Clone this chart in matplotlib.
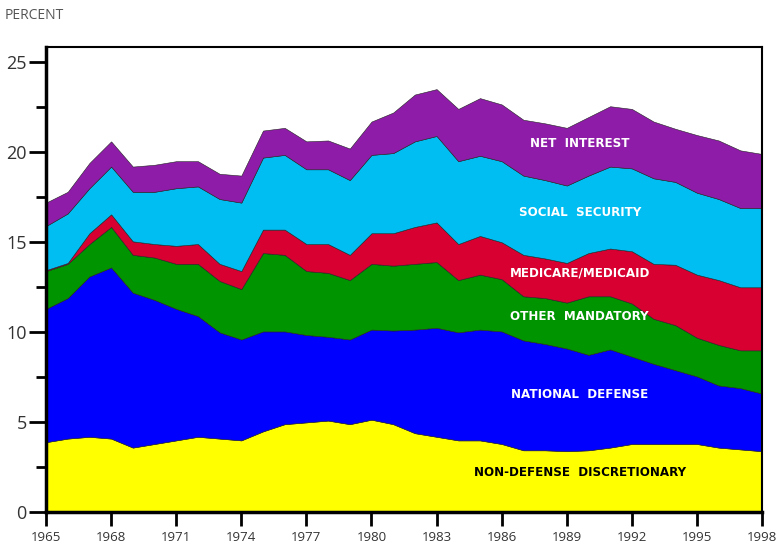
import matplotlib
matplotlib.use("Agg")
import matplotlib.pyplot as plt
from matplotlib.ticker import MultipleLocator

years = list(range(1965, 1999))

# outlays as percent of GDP
non_defense = [3.9, 4.1, 4.2, 4.1, 3.6, 3.8, 4.0, 4.2, 4.1, 4.0, 4.5, 4.9,
               5.0, 5.1, 4.9, 5.15, 4.9, 4.4, 4.2, 4.0, 4.0, 3.8, 3.45, 3.45,
               3.4, 3.45, 3.6, 3.8, 3.8, 3.8, 3.8, 3.6, 3.5, 3.4]
defense = [7.4, 7.8, 8.9, 9.5, 8.6, 8.0, 7.3, 6.7, 5.9, 5.6, 5.55, 5.15,
           4.85, 4.65, 4.7, 5.0, 5.2, 5.75, 6.05, 6.0, 6.15, 6.25, 6.1, 5.9,
           5.7, 5.3, 5.45, 4.85, 4.45, 4.1, 3.75, 3.45, 3.4, 3.2]
other_mandatory = [2.1, 1.9, 1.8, 2.25, 2.1, 2.35, 2.5, 2.9, 2.85, 2.8, 4.35, 4.25,
                   3.55, 3.55, 3.3, 3.65, 3.6, 3.65, 3.65, 2.9, 3.05, 2.9, 2.45, 2.55,
                   2.55, 3.25, 2.95, 2.95, 2.5, 2.5, 2.15, 2.25, 2.1, 2.4]
medicare = [0.05, 0.05, 0.6, 0.7, 0.75, 0.75, 1.0, 1.1, 0.95, 1.0, 1.3, 1.4,
            1.5, 1.6, 1.4, 1.7, 1.8, 2.05, 2.2, 2.0, 2.15, 2.05, 2.3, 2.2,
            2.2, 2.4, 2.65, 2.9, 3.05, 3.35, 3.5, 3.6, 3.5, 3.5]
social_security = [2.45, 2.75, 2.5, 2.65, 2.75, 2.9, 3.2, 3.2, 3.6, 3.8, 4.0, 4.15,
                   4.15, 4.15, 4.15, 4.35, 4.45, 4.75, 4.8, 4.6, 4.45, 4.5, 4.4, 4.35,
                   4.3, 4.3, 4.55, 4.6, 4.75, 4.6, 4.55, 4.5, 4.4, 4.4]
net_interest = [1.3, 1.2, 1.4, 1.4, 1.4, 1.5, 1.5, 1.4, 1.4, 1.5, 1.5, 1.5,
                1.55, 1.6, 1.75, 1.85, 2.25, 2.6, 2.6, 2.9, 3.2, 3.15, 3.1, 3.15,
                3.2, 3.25, 3.35, 3.3, 3.15, 2.95, 3.2, 3.25, 3.2, 3.0]

colores = ['#ffff00', '#0000ff', '#009400', '#d70030', '#00bdf2', '#8e1ca8']
etiquetas = ["NON-DEFENSE  DISCRETIONARY", "NATIONAL  DEFENSE", "OTHER  MANDATORY",
             "MEDICARE/MEDICAID", "SOCIAL  SECURITY", "NET  INTEREST"]
label_y = [2.2, 6.52, 10.85, 13.3, 16.63, 20.48]
label_color = ['black', 'white', 'white', 'white', 'white', 'white']

fig = plt.figure(figsize=(7.8, 5.44), dpi=100)
ax = fig.add_axes([0.059, 0.058, 0.918, 0.856])

ax.stackplot(years, non_defense, defense, other_mandatory, medicare,
             social_security, net_interest, colors=colores,
             edgecolor='#222222', linewidth=0.4)

for txt, yy, c in zip(etiquetas, label_y, label_color):
    ax.text(1989.6, yy, txt, ha='center', va='center', color=c,
            fontsize=8.6, fontweight='bold', family='DejaVu Sans')

ax.set_xlim(1965, 1998)
ax.set_ylim(0, 25.85)
ax.set_xticks(list(range(1965, 1999, 3)))
ax.yaxis.set_major_locator(MultipleLocator(5))
ax.yaxis.set_minor_locator(MultipleLocator(2.5))

for s in ax.spines.values():
    s.set_linewidth(1.5)
ax.spines['bottom'].set_linewidth(2.5)
ax.spines['left'].set_linewidth(2.5)

ax.tick_params(axis='y', which='major', length=12, width=2, labelsize=13,
               labelcolor='#333333', pad=2)
ax.tick_params(axis='y', which='minor', length=7, width=2)
ax.tick_params(axis='x', which='major', length=10, width=2, labelsize=9.5,
               labelcolor='#333333', pad=3)
for lab in ax.get_xticklabels() + ax.get_yticklabels():
    lab.set_family('Open Sans')

fig.text(0.006, 0.972, "PERCENT", fontsize=10, color='#555555',
         family='Open Sans', va='center', ha='left')

fig.savefig("out.png", dpi=100)
